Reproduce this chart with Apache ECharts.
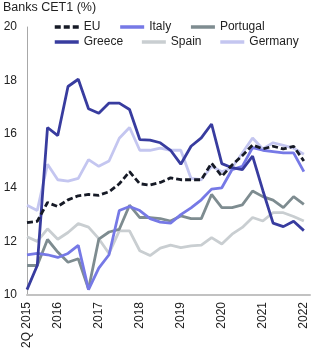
<!DOCTYPE html>
<html>
<head>
<meta charset="utf-8">
<script src="https://cdn.jsdelivr.net/npm/echarts@6/dist/echarts.min.js"></script>
<style>
  html, body { margin: 0; padding: 0; background: #fff; }
  #chart { width: 321px; height: 351px; }
</style>
</head>
<body>
<div id="chart"></div>
<script>
// quarters 2Q 2015 .. 1Q 2022
const quarters = [
  '2Q 2015', '3Q 2015', '4Q 2015',
  '1Q 2016', '2Q 2016', '3Q 2016', '4Q 2016',
  '1Q 2017', '2Q 2017', '3Q 2017', '4Q 2017',
  '1Q 2018', '2Q 2018', '3Q 2018', '4Q 2018',
  '1Q 2019', '2Q 2019', '3Q 2019', '4Q 2019',
  '1Q 2020', '2Q 2020', '3Q 2020', '4Q 2020',
  '1Q 2021', '2Q 2021', '3Q 2021', '4Q 2021',
  '1Q 2022'
]

const eu = [12.7, 12.75, 13.45, 13.3, 13.55, 13.7, 13.75, 13.72, 13.85, 14.15, 14.6, 14.15, 14.1, 14.2,
  14.37, 14.3, 14.3, 14.3, 14.92, 14.43, 14.85, 15.2, 15.6, 15.45, 15.55, 15.45, 15.55, 15.0]
const italy = [11.5, 11.55, 11.5, 11.4, 11.55, 11.85, 10.2, 11.0, 11.5, 13.15, 13.3, 13.15, 12.85, 12.72,
  12.68, 13.0, 13.25, 13.55, 13.95, 14.0, 14.68, 14.8, 15.5, 15.4, 15.35, 15.3, 15.3, 14.6]
const portugal = [11.1, 11.1, 12.07, 11.6, 11.22, 11.35, 10.22, 12.08, 12.35, 12.45, 13.35, 12.89, 12.89, 12.85,
  12.76, 12.95, 12.85, 12.85, 13.75, 13.26, 13.26, 13.36, 13.88, 13.67, 13.54, 13.26, 13.67, 13.38]
const greece = [10.2, 11.1, 16.25, 15.95, 17.78, 18.05, 16.95, 16.78, 17.16, 17.16, 16.92, 15.8, 15.78, 15.68,
  15.4, 14.88, 15.55, 15.86, 16.38, 14.9, 14.75, 14.68, 15.18, 13.9, 12.68, 12.55, 12.75, 12.4]
const spain = [12.17, 12.0, 12.47, 12.08, 12.33, 12.66, 12.53, 12.1, 11.55, 12.39, 12.39, 11.65, 11.47, 11.75,
  11.86, 11.77, 11.83, 11.86, 12.14, 11.9, 12.27, 12.52, 12.89, 12.76, 13.07, 13.07, 12.93, 12.76]
const germany = [13.35, 13.15, 14.88, 14.3, 14.25, 14.35, 15.05, 14.8, 15.0, 15.85, 16.25, 15.4, 15.4, 15.48,
  15.4, 15.4, 14.35, 14.3, 14.8, 14.6, 14.75, 15.3, 15.86, 15.45, 15.68, 15.58, 15.48, 15.25]

const font = 'Liberation Sans, Arial, sans-serif'

function pairs(values) {
  return values.map((v, i) => [i, v])
}

function line(name, values, color, dashed) {
  return {
    name: name,
    type: 'line',
    data: pairs(values),
    symbol: 'none',
    smooth: false,
    lineStyle: { color: color, width: 2.8, type: dashed ? [6, 3] : 'solid' },
    itemStyle: { color: color }
  }
}

// legend rows share the same look
function legendRow(names, top, gap) {
  return {
    data: names,
    left: 53,
    top: top,
    padding: 0,
    itemWidth: 24,
    itemHeight: 14,
    itemGap: gap,
    itemStyle: { opacity: 0 },
    lineStyle: { width: 3.5 },
    textStyle: { fontFamily: font, fontSize: 12, color: '#222' }
  }
}

const chart = echarts.init(document.getElementById('chart'))

const option = {
  animation: false,
  title: {
    text: 'Banks CET1 (%)',
    left: 3,
    top: 1,
    padding: 0,
    textStyle: { fontFamily: font, fontSize: 12.5, fontWeight: 'normal', color: '#222' }
  },
  legend: [
    legendRow(['EU', 'Italy', 'Portugal'], 21, 18),
    legendRow(['Greece', 'Spain', 'Germany'], 36, 17)
  ],
  grid: { left: 27, right: 11, top: 27, bottom: 55 },
  xAxis: {
    type: 'value',
    min: 0,
    max: 27.6,
    interval: 1,
    splitLine: { show: false },
    axisTick: { show: false },
    axisLine: { show: true, lineStyle: { color: '#c2c2c2', width: 2 } },
    axisLabel: {
      rotate: 90,
      margin: 7,
      fontFamily: font,
      fontSize: 12,
      color: '#222',
      showMaxLabel: false,
      formatter: function (v) {
        const q = quarters[v]
        if (!q) return ''
        if (v === 0) return q
        return q.indexOf('1Q') === 0 ? q.slice(3) : ''
      }
    }
  },
  yAxis: {
    type: 'value',
    min: 10,
    max: 20,
    interval: 2,
    splitLine: { show: false },
    axisTick: { show: false },
    axisLine: { show: true, lineStyle: { color: '#a8a8a8', width: 1 } },
    axisLabel: { margin: 10, fontFamily: font, fontSize: 12, color: '#222' }
  },
  series: [
    line('Spain', spain, '#c9ced1'),
    line('Germany', germany, '#c4c6f0'),
    line('Portugal', portugal, '#7e8c90'),
    line('Italy', italy, '#7679e6'),
    line('Greece', greece, '#383c9f'),
    line('EU', eu, '#161a26', true)
  ]
}

chart.setOption(option)
</script>
</body>
</html>
